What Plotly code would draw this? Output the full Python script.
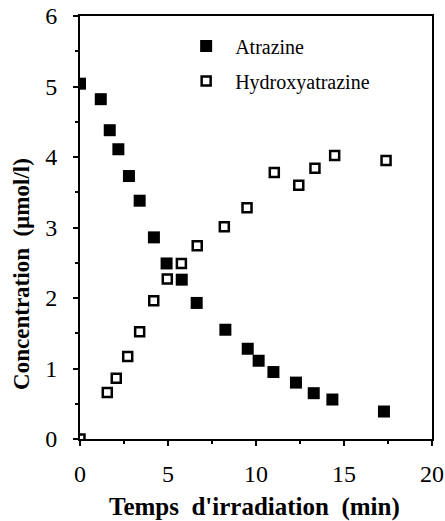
import plotly.graph_objects as go

atr_x = [0.0, 1.18, 1.69, 2.18, 2.78, 3.39, 4.2, 4.92, 5.78, 6.63, 8.26, 9.53, 10.15, 10.99, 12.27, 13.28, 14.34, 17.27]
atr_y = [5.04, 4.82, 4.38, 4.11, 3.73, 3.38, 2.86, 2.49, 2.26, 1.93, 1.55, 1.28, 1.11, 0.95, 0.80, 0.65, 0.56, 0.39]

hyd_x = [0.0, 1.55, 2.06, 2.71, 3.39, 4.19, 4.96, 5.76, 6.66, 8.2, 9.49, 11.04, 12.43, 13.35, 14.47, 17.39]
hyd_y = [0.0, 0.66, 0.86, 1.17, 1.52, 1.96, 2.27, 2.49, 2.74, 3.01, 3.28, 3.78, 3.60, 3.84, 4.02, 3.95]

x_title = "Temps  d'irradiation  (min)"
y_title = "Concentration  (µmol/l)"

font_serif = "Liberation Serif, Times New Roman, serif"

fig = go.Figure()
fig.add_trace(go.Scatter(x=atr_x, y=atr_y, mode="markers", name="Atrazine",
                         legendgroup="a",
                         marker=dict(symbol="square", size=12, color="black",
                                     line=dict(width=0))))
fig.add_trace(go.Scatter(x=hyd_x, y=hyd_y, mode="markers", name="Hydroxyatrazine",
                         legendgroup="b",
                         marker=dict(symbol="square-open", size=9, color="black",
                                     line=dict(width=2.5, color="black"))))

fig.update_layout(
    width=445, height=521,
    margin=dict(l=80, r=13, t=16, b=82),
    paper_bgcolor="white", plot_bgcolor="white",
    font=dict(family=font_serif, color="black"),
    showlegend=True,
    legend=dict(x=0.276, y=0.975, xanchor="left", yanchor="top",
                bgcolor="rgba(0,0,0,0)", font=dict(size=20, family=font_serif),
                tracegroupgap=6, itemwidth=48),
    xaxis=dict(range=[0, 20], tickvals=[0, 5, 10, 15, 20],
               ticks="outside", ticklen=5, tickwidth=1.5, tickcolor="black",
               minor=dict(dtick=2.5, ticks="outside", ticklen=3, tickcolor="black"),
               showline=True, linewidth=2, linecolor="black", mirror=True,
               showgrid=False, zeroline=False, automargin=False,
               ticklabelstandoff=7,
               tickfont=dict(size=24, family=font_serif)),
    yaxis=dict(range=[0, 6], tickvals=[0, 1, 2, 3, 4, 5, 6],
               ticks="outside", ticklen=5, tickwidth=1.5, tickcolor="black",
               minor=dict(dtick=0.5, ticks="outside", ticklen=3, tickcolor="black"),
               showline=True, linewidth=2, linecolor="black", mirror=True,
               showgrid=False, zeroline=False, automargin=False,
               ticklabelstandoff=11,
               tickfont=dict(size=24, family=font_serif)),
    annotations=[
        dict(text="<b>" + x_title + "</b>", xref="paper", yref="paper",
             x=0.497, y=-0.161, xanchor="center", yanchor="middle",
             showarrow=False, font=dict(size=25, family=font_serif)),
        dict(text="<b>" + y_title + "</b>", xref="paper", yref="paper",
             x=-0.168, y=0.39, xanchor="center", yanchor="middle",
             textangle=-90, showarrow=False, font=dict(size=23, family=font_serif)),
    ],
)

fig.write_html("out.html", config={"displayModeBar": False},
               post_script="document.body.style.margin='0px';")
